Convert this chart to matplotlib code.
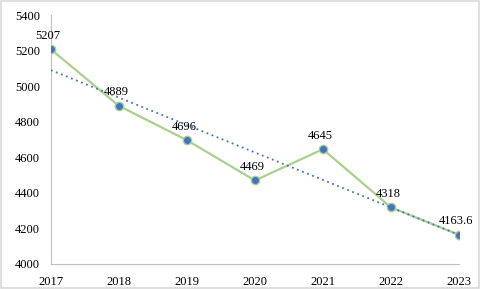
import numpy as np
import matplotlib
matplotlib.use('Agg')
from matplotlib import pyplot as plt
from matplotlib.patches import Rectangle

years = [2017, 2018, 2019, 2020, 2021, 2022, 2023]
values = [5207, 4889, 4696, 4469, 4645, 4318, 4163.6]
labels = ['5207', '4889', '4696', '4469', '4645', '4318', '4163.6']
yticks = [4000, 4200, 4400, 4600, 4800, 5000, 5200, 5400]

plt.rcParams['font.family'] = ['Liberation Serif', 'DejaVu Serif']

fig = plt.figure(figsize=(4.8, 2.89), dpi=100)
ax = fig.add_axes([0.106, 0.087, 0.85, 0.861])

ax.plot(years, values, color='#A9D18E', linewidth=1.6, marker='o', markersize=6,
        markerfacecolor='#4472C4', markeredgecolor='#A9D18E', markeredgewidth=1.0, zorder=3)

# linear trendline, drawn on top
coef = np.polyfit(years, values, 1)
trend = np.polyval(coef, years)
ax.plot(years, trend, color='#4472C4', linestyle=(0, (1, 2)), linewidth=1.3, zorder=4)

for x, y, s in zip(years, values, labels):
    ax.annotate(s, (x, y), xytext=(-2, 5.5), textcoords='offset points',
                ha='center', va='bottom', fontsize=9)

ax.set_xlim(2017, 2023)
ax.set_ylim(4000, 5400)
ax.set_xticks(years)
ax.set_yticks(yticks)
ax.tick_params(axis='y', length=0, labelsize=9, pad=8)
ax.tick_params(axis='x', length=0, labelsize=9, pad=9)
for side in ['top', 'right']:
    ax.spines[side].set_visible(False)
for side in ['left', 'bottom']:
    ax.spines[side].set_color('#BFBFBF')
    ax.spines[side].set_linewidth(0.8)

fig.patches.append(Rectangle((0.002, 0.003), 0.996, 0.994, transform=fig.transFigure,
                             fill=False, edgecolor='#D9D9D9', linewidth=1.2))

fig.savefig('out.png', dpi=100)
